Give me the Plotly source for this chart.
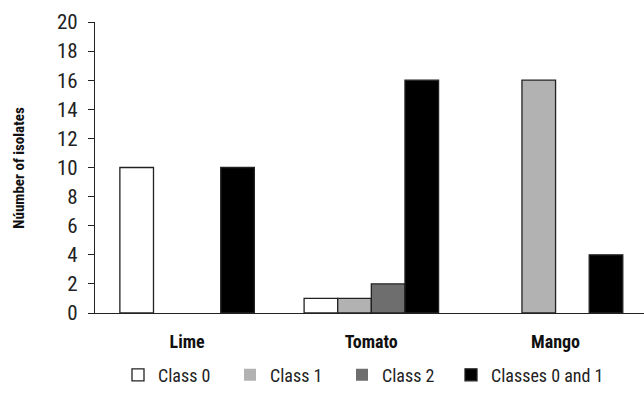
import plotly.graph_objects as go

categories = ["Lime", "Tomato", "Mango"]
series_names = ["Class 0", "Class 1", "Class 2", "Classes 0 and 1"]
class0 = [10, 1, 0]
class1 = [0, 1, 16]
class2 = [0, 2, 0]
class01 = [10, 16, 4]
y_ticks = [0, 2, 4, 6, 8, 10, 12, 14, 16, 18, 20]
y_title = "Núumber of isolates"

values = [class0, class1, class2, class01]
fills = ["#ffffff", "#b2b2b2", "#6e6e6e", "#000000"]
legend_ids = ["legend", "legend", "legend", "legend2"]

FONT = "Liberation Sans Narrow, Arial Narrow, Roboto Condensed, sans-serif"

fig = go.Figure()
for name, vals, col, lg in zip(series_names, values, fills, legend_ids):
    fig.add_trace(go.Bar(
        x=categories, y=vals, name=name, legend=lg,
        marker=dict(color=col, line=dict(color="#222222",
                                         width=[1.3 if v else 0 for v in vals])),
    ))

legend_common = dict(orientation="h", yanchor="top", y=-0.15, xanchor="left",
                     font=dict(family=FONT, size=18, color="#222222"),
                     itemwidth=30, traceorder="normal", bgcolor="rgba(0,0,0,0)")

fig.update_layout(
    width=644, height=410,
    margin=dict(l=95, r=0, t=22, b=97, autoexpand=False),
    paper_bgcolor="white", plot_bgcolor="white",
    barmode="group", bargap=0.27, bargroupgap=0,
    font=dict(family=FONT, size=18, color="#222222"),
    showlegend=True,
    legend=dict(x=(118 - 95) / 549, entrywidth=67, entrywidthmode="pixels", **legend_common),
    legend2=dict(x=(451 - 95) / 549, **legend_common),
)
fig.update_xaxes(
    range=[-0.5, 2.48], showline=True, linecolor="#222222", linewidth=1.2,
    ticks="", showgrid=False, automargin=False,
    tickfont=dict(family=FONT, size=18, color="#111111", weight="bold"),
    ticklabelstandoff=12,
)
fig.update_yaxes(
    range=[0, 20], tickvals=y_ticks, showline=True, linecolor="#222222", linewidth=1.2,
    ticks="outside", ticklen=6, tickcolor="#222222", showgrid=False, zeroline=False,
    automargin=False,
    tickfont=dict(family=FONT, size=21, color="#222222"),
    ticklabelstandoff=6,
)
fig.add_annotation(
    text=y_title, textangle=-90, xref="paper", yref="paper",
    x=-0.14, y=0.5, xanchor="center", yanchor="middle", showarrow=False,
    font=dict(family=FONT, size=15, color="#111111", weight="bold"),
)
fig.write_html("out.html", config={"displayModeBar": False},
               post_script="document.body.style.margin='0';document.body.style.overflow='hidden';")
